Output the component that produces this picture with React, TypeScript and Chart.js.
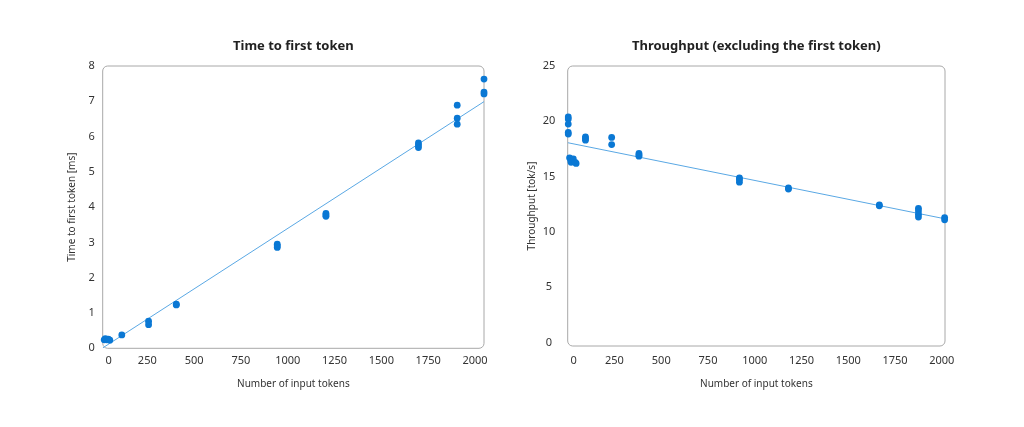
import { useEffect, useRef } from "react";
import { Chart, registerables } from "chart.js";

Chart.register(...registerables);

// ---------- data ----------
const xTickValues = [0, 250, 500, 750, 1000, 1250, 1500, 1750, 2000];
const ttftYTicks = [0, 1, 2, 3, 4, 5, 6, 7, 8];
const tpYTicks = [0, 5, 10, 15, 20, 25];

const ttftTokens = [20, 26, 34, 42, 50, 114, 257, 257, 405, 405, 944, 944, 944, 1204, 1204, 1204, 1698, 1698, 1698, 1905, 1905, 1905, 2048, 2048, 2048];
const ttftMs = [0.24, 0.27, 0.24, 0.26, 0.23, 0.38, 0.77, 0.67, 1.25, 1.23, 2.95, 2.9, 2.86, 3.82, 3.78, 3.74, 5.82, 5.76, 5.69, 6.89, 6.52, 6.35, 7.63, 7.26, 7.21];
const ttftFitTokens = [12, 2048];
const ttftFitMs = [0.01, 6.99];

const tpTokens = [3, 3, 3, 3, 3, 10, 16, 18, 30, 40, 45, 95, 95, 95, 235, 235, 381, 381, 381, 918, 918, 918, 1180, 1180, 1666, 1666, 1875, 1875, 1875, 1875, 2015, 2015];
const tpRate = [20.4, 20.2, 19.75, 19.0, 18.85, 16.7, 16.5, 16.3, 16.6, 16.3, 16.2, 18.6, 18.45, 18.3, 18.55, 17.9, 17.1, 16.95, 16.85, 14.9, 14.75, 14.5, 13.98, 13.88, 12.45, 12.37, 12.14, 11.9, 11.6, 11.35, 11.3, 11.1];
const tpFitTokens = [0, 2017];
const tpFitRate = [18.07, 11.19];

// ---------- styling ----------
const FONT = "'Noto Sans', 'Open Sans', sans-serif";
const POINT_COLOR = "rgb(10,120,212)";
const LINE_COLOR = "rgb(90,168,228)";

const roundedBorder = {
  id: "roundedBorder",
  beforeDatasetsDraw(chart: any) {
    const { ctx, chartArea } = chart;
    const { left, top, right, bottom } = chartArea;
    ctx.save();
    ctx.strokeStyle = "#a8a8a8";
    ctx.lineWidth = 1;
    ctx.beginPath();
    (ctx as any).roundRect(left, top, right - left, bottom - top, 5);
    ctx.stroke();
    ctx.restore();
  },
};

type PanelProps = {
  title: string;
  yTitle: string;
  xs: number[];
  ys: number[];
  fitX: number[];
  fitY: number[];
  yTicks: number[];
  xMin: number;
  xMax: number;
  yMin: number;
  yMax: number;
  pad: { left: number; right: number; top: number; bottom: number };
  yWidth: number;
  xHeight: number;
  yTickPad: number;
  xTickPad: number;
  left: number;
};

function Panel(p: PanelProps) {
  const ref = useRef<HTMLCanvasElement | null>(null);
  useEffect(() => {
    if (!ref.current) return;
    const chart = new Chart(ref.current, {
      type: "scatter",
      data: {
        datasets: [
          {
            label: "data",
            data: p.xs.map((x, i) => ({ x, y: p.ys[i] })),
            backgroundColor: POINT_COLOR,
            borderWidth: 0,
            pointRadius: 3.4,
            clip: false as any,
          },
          {
            label: "fit",
            type: "line" as any,
            data: p.fitX.map((x, i) => ({ x, y: p.fitY[i] })),
            borderColor: LINE_COLOR,
            borderWidth: 1,
            pointRadius: 0,
            showLine: true,
            fill: false,
          } as any,
        ],
      },
      options: {
        animation: false,
        responsive: false,
        layout: { padding: p.pad },
        plugins: {
          legend: { display: false },
          tooltip: { enabled: false },
          title: {
            display: true,
            text: p.title,
            fullSize: false,
            color: "#222",
            font: { family: FONT, size: 13, weight: "bold" },
            padding: { top: 0, bottom: 66 - p.pad.top - 15.6 },
          },
        },
        scales: {
          x: {
            type: "linear",
            min: p.xMin,
            max: p.xMax,
            grid: { display: false, drawTicks: false },
            border: { display: false },
            afterBuildTicks: (scale: any) => {
              scale.ticks = xTickValues.map((v) => ({
                value: v <= scale.min ? scale.min + 32 : v,
              }));
            },
            afterFit: (scale: any) => {
              scale.height = p.xHeight;
            },
            ticks: {
              autoSkip: false,
              maxRotation: 0,
              padding: p.xTickPad,
              color: "#333",
              font: { family: FONT, size: 11 },
              callback: (_v: any, i: number) => String(xTickValues[i]),
            },
            title: {
              display: true,
              text: "Number of input tokens",
              color: "#333",
              font: { family: FONT, size: 10 },
              padding: { top: 0, bottom: 0 },
            },
          },
          y: {
            type: "linear",
            min: p.yMin,
            max: p.yMax,
            grid: { display: false, drawTicks: false },
            border: { display: false },
            afterBuildTicks: (scale: any) => {
              scale.ticks = p.yTicks.map((v) => ({ value: v }));
            },
            afterFit: (scale: any) => {
              scale.width = p.yWidth;
            },
            ticks: {
              padding: p.yTickPad,
              crossAlign: "center",
              color: "#333",
              font: { family: FONT, size: 11 },
              callback: (_v: any, i: number) => String(p.yTicks[i]),
            },
            title: {
              display: true,
              text: p.yTitle,
              color: "#333",
              font: { family: FONT, size: 10 },
              padding: { top: 0, bottom: 0 },
            },
          },
        },
      },
      plugins: [roundedBorder],
    });
    return () => chart.destroy();
  }, []);
  return (
    <canvas
      ref={ref}
      width={512}
      height={427}
      style={{ position: "absolute", left: p.left, top: 0, width: 512, height: 427 }}
    />
  );
}

export default function App() {
  return (
    <div style={{ position: "fixed", left: 0, top: 0, width: 1024, height: 427, background: "#fff" }}>
      <Panel
        title="Time to first token"
        yTitle="Time to first token [ms]"
        xs={ttftTokens}
        ys={ttftMs}
        fitX={ttftFitTokens}
        fitY={ttftFitMs}
        yTicks={ttftYTicks}
        xMin={12}
        xMax={2048}
        yMin={0}
        yMax={8}
        pad={{ left: 66, right: 28, top: 38.2, bottom: 37 }}
        yWidth={36.7}
        xHeight={41.7}
        yTickPad={7.8}
        xTickPad={6.1}
        left={0}
      />
      <Panel
        title="Throughput (excluding the first token)"
        yTitle="Throughput [tok/s]"
        xs={tpTokens}
        ys={tpRate}
        fitX={tpFitTokens}
        fitY={tpFitRate}
        yTicks={tpYTicks}
        xMin={0}
        xMax={2017}
        yMin={-0.3}
        yMax={25}
        pad={{ left: 14, right: 79, top: 38.2, bottom: 37 }}
        yWidth={41.7}
        xHeight={44}
        yTickPad={12.4}
        xTickPad={8.4}
        left={512}
      />
    </div>
  );
}
